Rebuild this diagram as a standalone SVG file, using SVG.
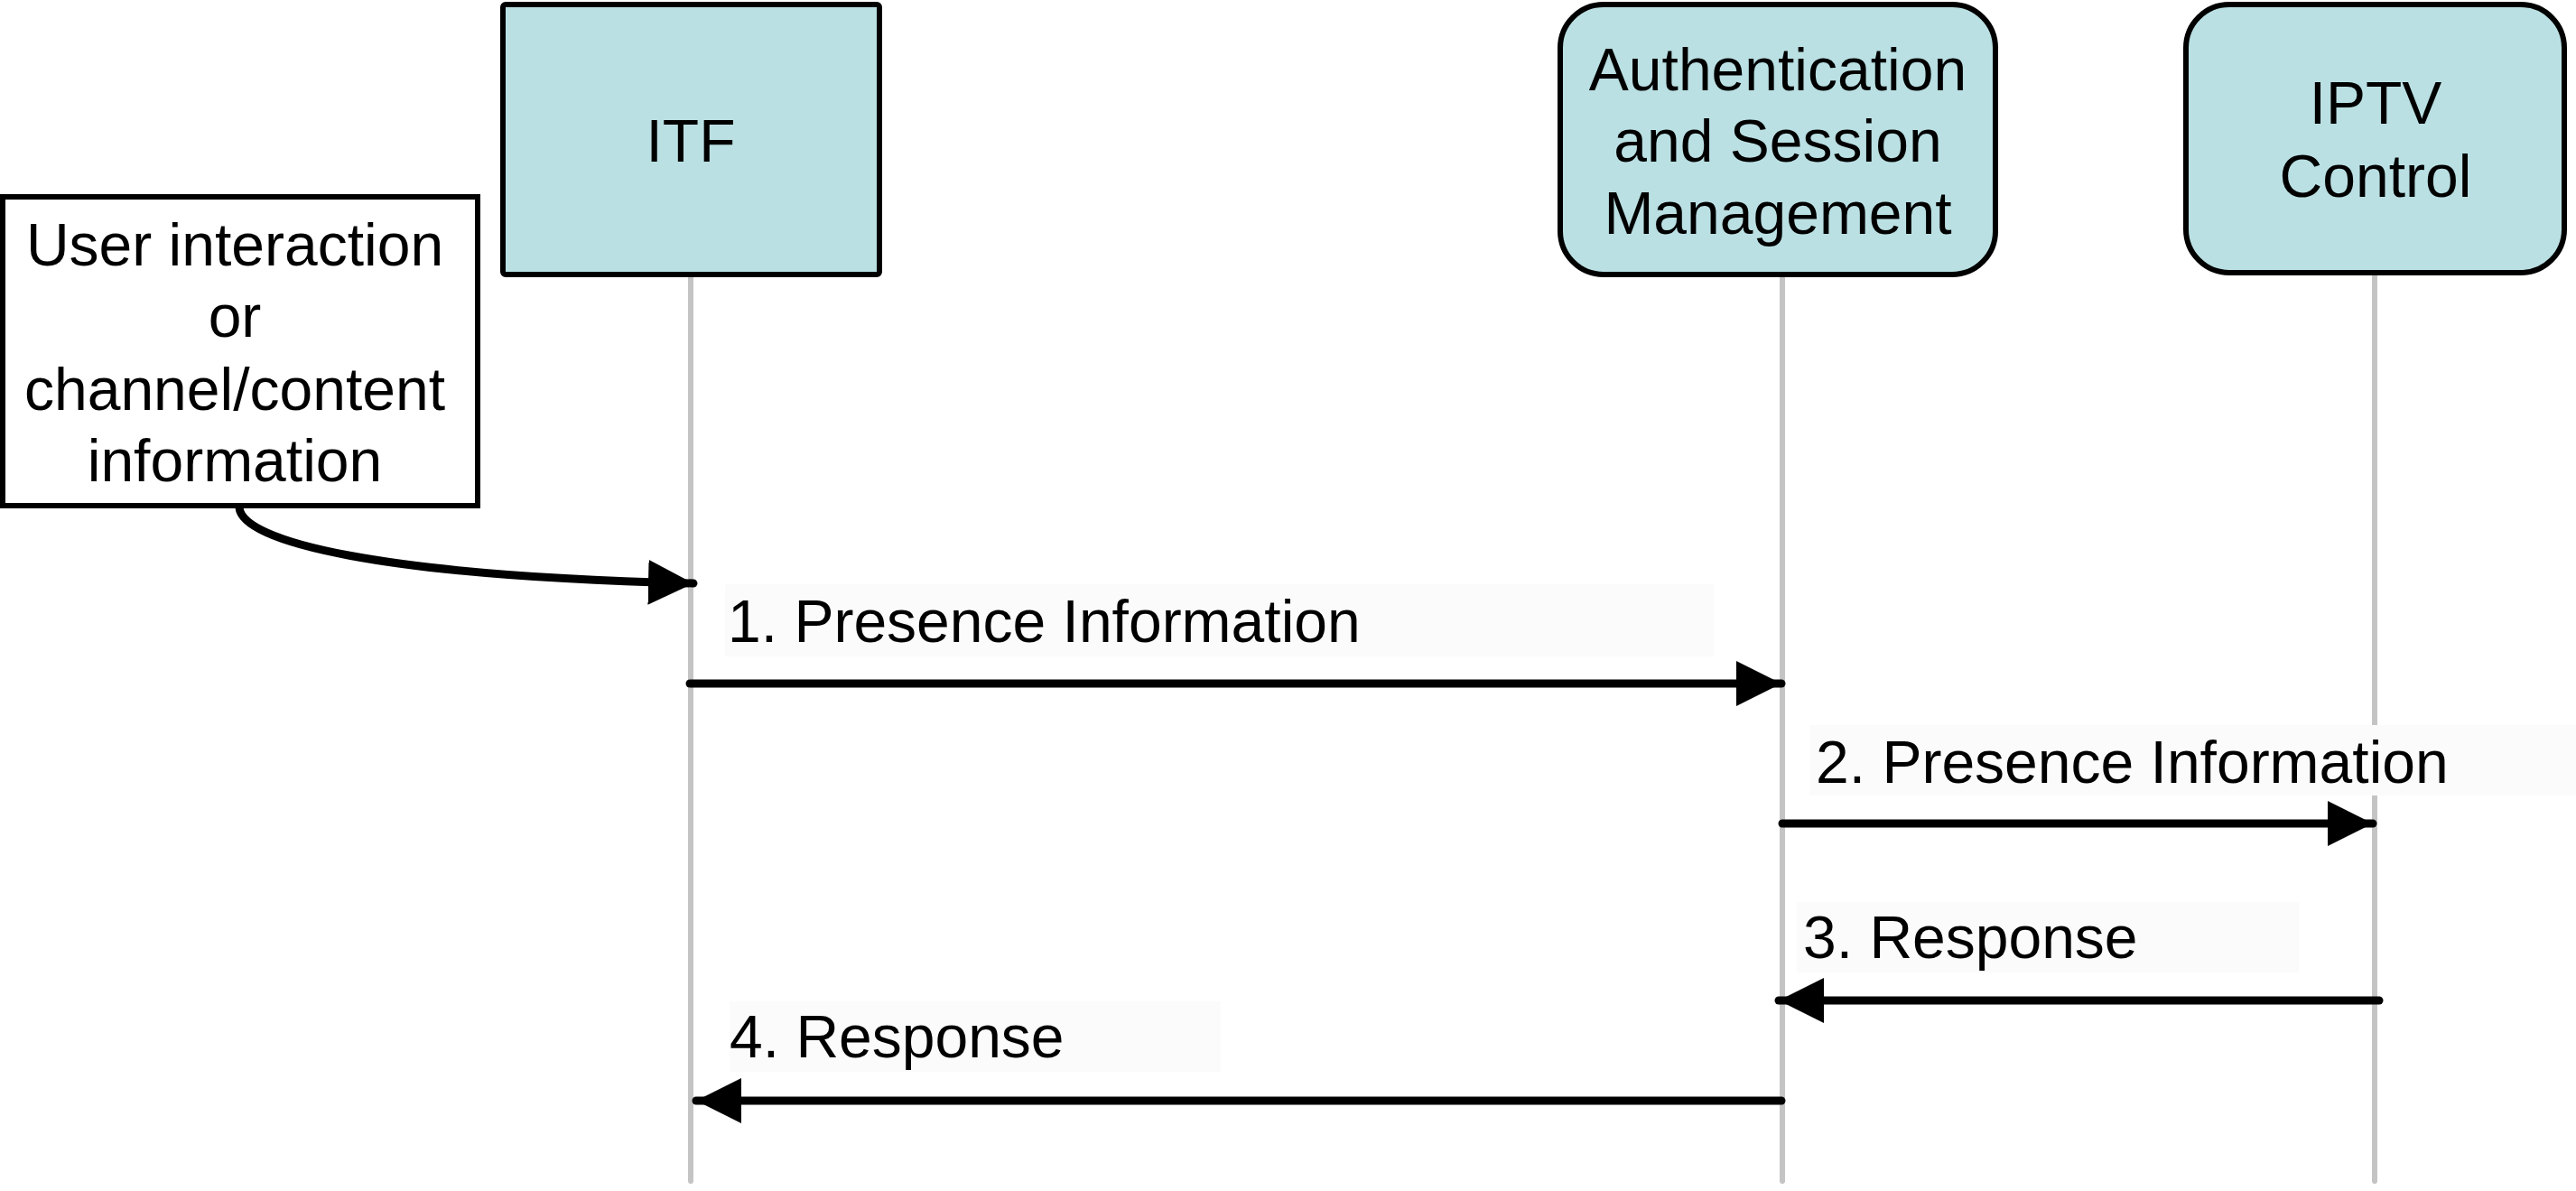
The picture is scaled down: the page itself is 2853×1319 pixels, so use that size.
<svg xmlns="http://www.w3.org/2000/svg" width="2853" height="1319" viewBox="0 0 2853 1319">
<style>
.box{fill:#bae0e3;stroke:#000;stroke-width:6}
.note{fill:#fff;stroke:#000;stroke-width:6}
.t{font-family:"Liberation Sans",Arial,sans-serif;font-size:66px;fill:#000}
.c{text-anchor:middle}
.life{stroke:#c4c4c4;stroke-width:6;fill:none;stroke-linecap:round}
.msg{stroke:#000;stroke-width:9;fill:none;stroke-linecap:round;marker-end:url(#ah)}
.lbg{fill:#fbfbfb}
</style>
<defs>
<marker id="ah" markerUnits="userSpaceOnUse" markerWidth="50" markerHeight="50" refX="50" refY="25" orient="auto" viewBox="0 0 50 50">
<path d="M0,0 L50,25 L0,50 z" fill="#000"/>
</marker>
</defs>
<g id="lifelines">
<line class="life" x1="765" y1="306" x2="765" y2="1308"/>
<line class="life" x1="1974" y1="306" x2="1974" y2="1308"/>
<line class="life" x1="2630" y1="306" x2="2630" y2="1308"/>
</g>
<g id="itf">
<rect class="box" x="557" y="5" width="417" height="299" rx="3"/>
<text class="t c" x="765" y="179">ITF</text>
</g>
<g id="asm">
<rect class="box" x="1728" y="5" width="482" height="299" rx="48"/>
<text class="t c" x="1969" y="100">Authentication</text>
<text class="t c" x="1969" y="179">and Session</text>
<text class="t c" x="1969" y="259">Management</text>
</g>
<g id="iptv">
<rect class="box" x="2421" y="5" width="419" height="297" rx="48"/>
<text class="t c" x="2631" y="137">IPTV</text>
<text class="t c" x="2631" y="218">Control</text>
</g>
<g id="user">
<rect class="note" x="3" y="218" width="526" height="342"/>
<text class="t c" x="260" y="294">User interaction</text>
<text class="t c" x="260" y="373">or</text>
<text class="t c" x="260" y="454">channel/content</text>
<text class="t c" x="260" y="533">information</text>
</g>
<g id="connectors">
<path class="msg" d="M265,562 C268,600 420,638 768,646"/>
<rect class="lbg" x="803" y="647" width="1095" height="80"/>
<text class="t" x="806" y="711">1. Presence Information</text>
<line class="msg" x1="764" y1="757" x2="1973" y2="757"/>
<rect class="lbg" x="2004" y="803" width="849" height="78"/>
<text class="t" x="2011" y="867">2. Presence Information</text>
<line class="msg" x1="1974" y1="912" x2="2628" y2="912"/>
<rect class="lbg" x="1990" y="999" width="556" height="78"/>
<text class="t" x="1997" y="1061">3. Response</text>
<line class="msg" x1="2635" y1="1108" x2="1970" y2="1108"/>
<rect class="lbg" x="808" y="1109" width="544" height="78"/>
<text class="t" x="808" y="1171">4. Response</text>
<line class="msg" x1="1973" y1="1219" x2="771" y2="1219"/>
</g>
</svg>
